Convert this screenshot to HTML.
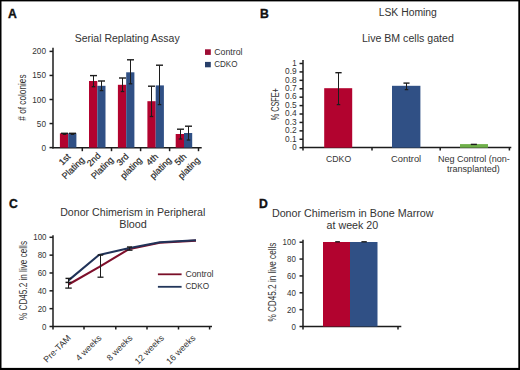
<!DOCTYPE html>
<html><head><meta charset="utf-8"><style>
html,body{margin:0;padding:0;background:#fff;}
body{width:520px;height:370px;overflow:hidden;position:relative;}
svg{position:absolute;left:0;top:0;font-family:"Liberation Sans", sans-serif;}
.s{stroke:#262626;stroke-width:0.2px;}
</style></head><body>
<svg width="520" height="370" viewBox="0 0 520 370">
<rect x="0" y="0" width="520" height="370" fill="#fff"/>
<text x="8" y="17.8" font-size="12.2" text-anchor="start" fill="#111" font-weight="bold" stroke="#111" stroke-width="0.35">A</text>
<text x="74.7" y="41.8" font-size="11" text-anchor="start" fill="#333333" font-weight="normal" textLength="105" lengthAdjust="spacingAndGlyphs" >Serial Replating Assay</text>
<line x1="53" y1="47.8" x2="53" y2="148.5" stroke="#1c1c1c" stroke-width="1.5" />
<line x1="49.5" y1="147.6" x2="53" y2="147.6" stroke="#1c1c1c" stroke-width="1.5" />
<text x="46" y="150.6" font-size="8.4" text-anchor="end" fill="#333333" font-weight="normal" textLength="4.57" lengthAdjust="spacingAndGlyphs" >0</text>
<line x1="49.5" y1="123.55" x2="53" y2="123.55" stroke="#1c1c1c" stroke-width="1.5" />
<text x="46" y="126.55" font-size="8.4" text-anchor="end" fill="#333333" font-weight="normal" textLength="9.14" lengthAdjust="spacingAndGlyphs" >50</text>
<line x1="49.5" y1="99.5" x2="53" y2="99.5" stroke="#1c1c1c" stroke-width="1.5" />
<text x="46" y="102.5" font-size="8.4" text-anchor="end" fill="#333333" font-weight="normal" textLength="13.71" lengthAdjust="spacingAndGlyphs" >100</text>
<line x1="49.5" y1="75.45" x2="53" y2="75.45" stroke="#1c1c1c" stroke-width="1.5" />
<text x="46" y="78.45" font-size="8.4" text-anchor="end" fill="#333333" font-weight="normal" textLength="13.71" lengthAdjust="spacingAndGlyphs" >150</text>
<line x1="49.5" y1="51.39999999999999" x2="53" y2="51.39999999999999" stroke="#1c1c1c" stroke-width="1.5" />
<text x="46" y="54.39999999999999" font-size="8.4" text-anchor="end" fill="#333333" font-weight="normal" textLength="13.71" lengthAdjust="spacingAndGlyphs" >200</text>
<text transform="translate(25.8,97.6) rotate(-90)" font-size="10.2" text-anchor="middle" fill="#333333" textLength="46.3" lengthAdjust="spacingAndGlyphs">&#35; of colonies</text>
<line x1="52.5" y1="147.8" x2="201.7" y2="147.8" stroke="#1c1c1c" stroke-width="1.5" />
<line x1="82.3" y1="147.8" x2="82.3" y2="151.2" stroke="#1c1c1c" stroke-width="1.5" />
<line x1="111.5" y1="147.8" x2="111.5" y2="151.2" stroke="#1c1c1c" stroke-width="1.5" />
<line x1="140.6" y1="147.8" x2="140.6" y2="151.2" stroke="#1c1c1c" stroke-width="1.5" />
<line x1="169.6" y1="147.8" x2="169.6" y2="151.2" stroke="#1c1c1c" stroke-width="1.5" />
<line x1="198.5" y1="147.8" x2="198.5" y2="151.2" stroke="#1c1c1c" stroke-width="1.5" />
<rect x="59.900000000000006" y="133.3" width="8.3" height="14.299999999999983" fill="#b2032f"/>
<rect x="68.2" y="133.3" width="8.2" height="14.299999999999983" fill="#305085"/>
<rect x="89.0" y="81" width="8.3" height="66.6" fill="#b2032f"/>
<rect x="97.3" y="85.8" width="8.2" height="61.8" fill="#305085"/>
<rect x="117.9" y="84.8" width="8.3" height="62.8" fill="#b2032f"/>
<rect x="126.2" y="72.3" width="8.2" height="75.3" fill="#305085"/>
<rect x="147.39999999999998" y="101.2" width="8.3" height="46.39999999999999" fill="#b2032f"/>
<rect x="155.7" y="85.4" width="8.2" height="62.19999999999999" fill="#305085"/>
<rect x="175.7" y="134" width="8.3" height="13.599999999999994" fill="#b2032f"/>
<rect x="184.0" y="133" width="8.2" height="14.599999999999994" fill="#305085"/>
<line x1="64.5" y1="133.3" x2="64.5" y2="134.3" stroke="#1c1c1c" stroke-width="1" />
<line x1="61.0" y1="133.3" x2="68.0" y2="133.3" stroke="#1c1c1c" stroke-width="1.4" />
<line x1="62.75" y1="134.3" x2="66.25" y2="134.3" stroke="#1c1c1c" stroke-width="1.3" />
<line x1="72.5" y1="133.3" x2="72.5" y2="134.3" stroke="#1c1c1c" stroke-width="1" />
<line x1="69.0" y1="133.3" x2="76.0" y2="133.3" stroke="#1c1c1c" stroke-width="1.4" />
<line x1="70.75" y1="134.3" x2="74.25" y2="134.3" stroke="#1c1c1c" stroke-width="1.3" />
<line x1="93.5" y1="75.6" x2="93.5" y2="86.7" stroke="#1c1c1c" stroke-width="1" />
<line x1="90.0" y1="75.6" x2="97.0" y2="75.6" stroke="#1c1c1c" stroke-width="1.4" />
<line x1="91.75" y1="86.7" x2="95.25" y2="86.7" stroke="#1c1c1c" stroke-width="1.3" />
<line x1="101.5" y1="81" x2="101.5" y2="90.6" stroke="#1c1c1c" stroke-width="1" />
<line x1="98.0" y1="81" x2="105.0" y2="81" stroke="#1c1c1c" stroke-width="1.4" />
<line x1="99.75" y1="90.6" x2="103.25" y2="90.6" stroke="#1c1c1c" stroke-width="1.3" />
<line x1="122.5" y1="78" x2="122.5" y2="91.5" stroke="#1c1c1c" stroke-width="1" />
<line x1="119.0" y1="78" x2="126.0" y2="78" stroke="#1c1c1c" stroke-width="1.4" />
<line x1="120.75" y1="91.5" x2="124.25" y2="91.5" stroke="#1c1c1c" stroke-width="1.3" />
<line x1="130.5" y1="59.8" x2="130.5" y2="83.8" stroke="#1c1c1c" stroke-width="1" />
<line x1="127.0" y1="59.8" x2="134.0" y2="59.8" stroke="#1c1c1c" stroke-width="1.4" />
<line x1="128.75" y1="83.8" x2="132.25" y2="83.8" stroke="#1c1c1c" stroke-width="1.3" />
<line x1="151.5" y1="86.2" x2="151.5" y2="116.5" stroke="#1c1c1c" stroke-width="1" />
<line x1="148.0" y1="86.2" x2="155.0" y2="86.2" stroke="#1c1c1c" stroke-width="1.4" />
<line x1="149.75" y1="116.5" x2="153.25" y2="116.5" stroke="#1c1c1c" stroke-width="1.3" />
<line x1="159.5" y1="65.2" x2="159.5" y2="104.6" stroke="#1c1c1c" stroke-width="1" />
<line x1="156.0" y1="65.2" x2="163.0" y2="65.2" stroke="#1c1c1c" stroke-width="1.4" />
<line x1="157.75" y1="104.6" x2="161.25" y2="104.6" stroke="#1c1c1c" stroke-width="1.3" />
<line x1="180.5" y1="129.2" x2="180.5" y2="139" stroke="#1c1c1c" stroke-width="1" />
<line x1="177.0" y1="129.2" x2="184.0" y2="129.2" stroke="#1c1c1c" stroke-width="1.4" />
<line x1="178.75" y1="139" x2="182.25" y2="139" stroke="#1c1c1c" stroke-width="1.3" />
<line x1="188.5" y1="126.2" x2="188.5" y2="140" stroke="#1c1c1c" stroke-width="1" />
<line x1="185.0" y1="126.2" x2="192.0" y2="126.2" stroke="#1c1c1c" stroke-width="1.4" />
<line x1="186.75" y1="140" x2="190.25" y2="140" stroke="#1c1c1c" stroke-width="1.3" />
<g transform="translate(68.9,163.7) rotate(-45)"><text class="s" x="0" y="-6" font-size="9" text-anchor="middle" dominant-baseline="central" fill="#262626">1st</text><text class="s" x="0" y="6" font-size="9" text-anchor="middle" dominant-baseline="central" fill="#262626">Plating</text></g>
<g transform="translate(98.0,163.7) rotate(-45)"><text class="s" x="0" y="-6" font-size="9" text-anchor="middle" dominant-baseline="central" fill="#262626">2nd</text><text class="s" x="0" y="6" font-size="9" text-anchor="middle" dominant-baseline="central" fill="#262626">Plating</text></g>
<g transform="translate(126.9,163.7) rotate(-45)"><text class="s" x="0" y="-6" font-size="9" text-anchor="middle" dominant-baseline="central" fill="#262626">3rd</text><text class="s" x="0" y="6" font-size="9" text-anchor="middle" dominant-baseline="central" fill="#262626">plating</text></g>
<g transform="translate(156.39999999999998,163.7) rotate(-45)"><text class="s" x="0" y="-6" font-size="9" text-anchor="middle" dominant-baseline="central" fill="#262626">4th</text><text class="s" x="0" y="6" font-size="9" text-anchor="middle" dominant-baseline="central" fill="#262626">plating</text></g>
<g transform="translate(184.7,163.7) rotate(-45)"><text class="s" x="0" y="-6" font-size="9" text-anchor="middle" dominant-baseline="central" fill="#262626">5th</text><text class="s" x="0" y="6" font-size="9" text-anchor="middle" dominant-baseline="central" fill="#262626">plating</text></g>
<rect x="205" y="49.3" width="5.8" height="5.6" fill="#9e0c34"/>
<rect x="205" y="61.9" width="5.8" height="5.4" fill="#283f6a"/>
<text x="214.2" y="54.9" font-size="8.6" text-anchor="start" fill="#333333" font-weight="normal" textLength="28.3" lengthAdjust="spacingAndGlyphs" >Control</text>
<text x="214.2" y="66.9" font-size="8.6" text-anchor="start" fill="#333333" font-weight="normal" textLength="23.3" lengthAdjust="spacingAndGlyphs" >CDKO</text>
<text x="260" y="17.7" font-size="12.2" text-anchor="start" fill="#111" font-weight="bold" stroke="#111" stroke-width="0.35">B</text>
<text x="378.7" y="16.2" font-size="10" text-anchor="start" fill="#333333" font-weight="normal" textLength="58.2" lengthAdjust="spacingAndGlyphs" >LSK Homing</text>
<text x="361.9" y="41.5" font-size="10" text-anchor="start" fill="#333333" font-weight="normal" textLength="91.9" lengthAdjust="spacingAndGlyphs" >Live BM cells gated</text>
<line x1="303" y1="59.9" x2="303" y2="150.5" stroke="#1c1c1c" stroke-width="1.5" />
<line x1="299.5" y1="147.7" x2="303" y2="147.7" stroke="#1c1c1c" stroke-width="1.5" />
<text x="296.6" y="150.0" font-size="8.6" text-anchor="end" fill="#333333" font-weight="normal" textLength="4.4" lengthAdjust="spacingAndGlyphs" >0</text>
<line x1="299.5" y1="139.28" x2="303" y2="139.28" stroke="#1c1c1c" stroke-width="1.5" />
<text x="296.6" y="141.58" font-size="8.6" text-anchor="end" fill="#333333" font-weight="normal" textLength="11.6" lengthAdjust="spacingAndGlyphs" >0.1</text>
<line x1="299.5" y1="130.85999999999999" x2="303" y2="130.85999999999999" stroke="#1c1c1c" stroke-width="1.5" />
<text x="296.6" y="133.16" font-size="8.6" text-anchor="end" fill="#333333" font-weight="normal" textLength="11.6" lengthAdjust="spacingAndGlyphs" >0.2</text>
<line x1="299.5" y1="122.43999999999998" x2="303" y2="122.43999999999998" stroke="#1c1c1c" stroke-width="1.5" />
<text x="296.6" y="124.73999999999998" font-size="8.6" text-anchor="end" fill="#333333" font-weight="normal" textLength="11.6" lengthAdjust="spacingAndGlyphs" >0.3</text>
<line x1="299.5" y1="114.01999999999998" x2="303" y2="114.01999999999998" stroke="#1c1c1c" stroke-width="1.5" />
<text x="296.6" y="116.31999999999998" font-size="8.6" text-anchor="end" fill="#333333" font-weight="normal" textLength="11.6" lengthAdjust="spacingAndGlyphs" >0.4</text>
<line x1="299.5" y1="105.6" x2="303" y2="105.6" stroke="#1c1c1c" stroke-width="1.5" />
<text x="296.6" y="107.89999999999999" font-size="8.6" text-anchor="end" fill="#333333" font-weight="normal" textLength="11.6" lengthAdjust="spacingAndGlyphs" >0.5</text>
<line x1="299.5" y1="97.17999999999998" x2="303" y2="97.17999999999998" stroke="#1c1c1c" stroke-width="1.5" />
<text x="296.6" y="99.47999999999998" font-size="8.6" text-anchor="end" fill="#333333" font-weight="normal" textLength="11.6" lengthAdjust="spacingAndGlyphs" >0.6</text>
<line x1="299.5" y1="88.75999999999999" x2="303" y2="88.75999999999999" stroke="#1c1c1c" stroke-width="1.5" />
<text x="296.6" y="91.05999999999999" font-size="8.6" text-anchor="end" fill="#333333" font-weight="normal" textLength="11.6" lengthAdjust="spacingAndGlyphs" >0.7</text>
<line x1="299.5" y1="80.33999999999999" x2="303" y2="80.33999999999999" stroke="#1c1c1c" stroke-width="1.5" />
<text x="296.6" y="82.63999999999999" font-size="8.6" text-anchor="end" fill="#333333" font-weight="normal" textLength="11.6" lengthAdjust="spacingAndGlyphs" >0.8</text>
<line x1="299.5" y1="71.91999999999999" x2="303" y2="71.91999999999999" stroke="#1c1c1c" stroke-width="1.5" />
<text x="296.6" y="74.21999999999998" font-size="8.6" text-anchor="end" fill="#333333" font-weight="normal" textLength="11.6" lengthAdjust="spacingAndGlyphs" >0.9</text>
<line x1="299.5" y1="63.499999999999986" x2="303" y2="63.499999999999986" stroke="#1c1c1c" stroke-width="1.5" />
<text x="296.6" y="65.79999999999998" font-size="8.6" text-anchor="end" fill="#333333" font-weight="normal" textLength="4.4" lengthAdjust="spacingAndGlyphs" >1</text>
<text transform="translate(279,104.3) rotate(-90)" font-size="10.4" text-anchor="middle" fill="#333333" textLength="32" lengthAdjust="spacingAndGlyphs">% CSFE+</text>
<line x1="302.5" y1="147.6" x2="511.3" y2="147.6" stroke="#1c1c1c" stroke-width="1.5" />
<line x1="372" y1="147.6" x2="372" y2="150.5" stroke="#1c1c1c" stroke-width="1.5" />
<line x1="440.2" y1="147.6" x2="440.2" y2="150.5" stroke="#1c1c1c" stroke-width="1.5" />
<line x1="509.4" y1="147.6" x2="509.4" y2="150.5" stroke="#1c1c1c" stroke-width="1.5" />
<rect x="324.2" y="88.2" width="28" height="59.499999999999986" fill="#b2032f"/>
<rect x="392" y="85.8" width="28.4" height="61.89999999999999" fill="#305085"/>
<rect x="460" y="144.1" width="28" height="3.5999999999999943" fill="#6fb04a"/>
<line x1="338.5" y1="72.7" x2="338.5" y2="104.6" stroke="#1c1c1c" stroke-width="1" />
<line x1="335.35" y1="72.7" x2="341.65" y2="72.7" stroke="#1c1c1c" stroke-width="1.4" />
<line x1="336.75" y1="104.6" x2="340.25" y2="104.6" stroke="#1c1c1c" stroke-width="1.3" />
<line x1="406.5" y1="83.1" x2="406.5" y2="89.6" stroke="#1c1c1c" stroke-width="1" />
<line x1="403.45" y1="83.1" x2="409.55" y2="83.1" stroke="#1c1c1c" stroke-width="1.4" />
<line x1="404.75" y1="89.6" x2="408.25" y2="89.6" stroke="#1c1c1c" stroke-width="1.3" />
<line x1="470.8" y1="144.4" x2="476.9" y2="144.4" stroke="#1c1c1c" stroke-width="1.4" />
<text x="338.6" y="162.1" font-size="9" text-anchor="middle" fill="#333333" font-weight="normal" textLength="25.1" lengthAdjust="spacingAndGlyphs" >CDKO</text>
<text x="406.1" y="162.1" font-size="9" text-anchor="middle" fill="#333333" font-weight="normal" textLength="30.2" lengthAdjust="spacingAndGlyphs" >Control</text>
<text x="473.9" y="162.3" font-size="9" text-anchor="middle" fill="#333333" font-weight="normal" textLength="71.9" lengthAdjust="spacingAndGlyphs" >Neg Control (non-</text>
<text x="473.4" y="172.3" font-size="9" text-anchor="middle" fill="#333333" font-weight="normal" textLength="52.8" lengthAdjust="spacingAndGlyphs" >transplanted)</text>
<text x="9" y="207.9" font-size="12.2" text-anchor="start" fill="#111" font-weight="bold" stroke="#111" stroke-width="0.35">C</text>
<text x="60.2" y="216.3" font-size="10.8" text-anchor="start" fill="#333333" font-weight="normal" textLength="145.2" lengthAdjust="spacingAndGlyphs" >Donor Chimerism in Peripheral</text>
<text x="119.2" y="228.3" font-size="10.8" text-anchor="start" fill="#333333" font-weight="normal" textLength="27.7" lengthAdjust="spacingAndGlyphs" >Blood</text>
<line x1="53" y1="235.2" x2="53" y2="329.5" stroke="#1c1c1c" stroke-width="1.5" />
<line x1="49.5" y1="326.5" x2="53" y2="326.5" stroke="#1c1c1c" stroke-width="1.5" />
<text x="46.5" y="329.5" font-size="8.3" text-anchor="end" fill="#333333" font-weight="normal" textLength="4.4" lengthAdjust="spacingAndGlyphs" >0</text>
<line x1="49.5" y1="308.66" x2="53" y2="308.66" stroke="#1c1c1c" stroke-width="1.5" />
<text x="46.5" y="311.66" font-size="8.3" text-anchor="end" fill="#333333" font-weight="normal" textLength="8.8" lengthAdjust="spacingAndGlyphs" >20</text>
<line x1="49.5" y1="290.82" x2="53" y2="290.82" stroke="#1c1c1c" stroke-width="1.5" />
<text x="46.5" y="293.82" font-size="8.3" text-anchor="end" fill="#333333" font-weight="normal" textLength="8.8" lengthAdjust="spacingAndGlyphs" >40</text>
<line x1="49.5" y1="272.98" x2="53" y2="272.98" stroke="#1c1c1c" stroke-width="1.5" />
<text x="46.5" y="275.98" font-size="8.3" text-anchor="end" fill="#333333" font-weight="normal" textLength="8.8" lengthAdjust="spacingAndGlyphs" >60</text>
<line x1="49.5" y1="255.14" x2="53" y2="255.14" stroke="#1c1c1c" stroke-width="1.5" />
<text x="46.5" y="258.14" font-size="8.3" text-anchor="end" fill="#333333" font-weight="normal" textLength="8.8" lengthAdjust="spacingAndGlyphs" >80</text>
<line x1="49.5" y1="237.3" x2="53" y2="237.3" stroke="#1c1c1c" stroke-width="1.5" />
<text x="46.5" y="240.3" font-size="8.3" text-anchor="end" fill="#333333" font-weight="normal" textLength="13.200000000000001" lengthAdjust="spacingAndGlyphs" >100</text>
<text transform="translate(27,280.5) rotate(-90)" font-size="10.2" text-anchor="middle" fill="#333333" textLength="79" lengthAdjust="spacingAndGlyphs">% CD45.2 in live cells</text>
<line x1="52.5" y1="326.6" x2="212" y2="326.6" stroke="#1c1c1c" stroke-width="1.5" />
<line x1="84" y1="326.6" x2="84" y2="329.5" stroke="#1c1c1c" stroke-width="1.5" />
<line x1="115.8" y1="326.6" x2="115.8" y2="329.5" stroke="#1c1c1c" stroke-width="1.5" />
<line x1="147" y1="326.6" x2="147" y2="329.5" stroke="#1c1c1c" stroke-width="1.5" />
<line x1="178.5" y1="326.6" x2="178.5" y2="329.5" stroke="#1c1c1c" stroke-width="1.5" />
<line x1="209.6" y1="326.6" x2="209.6" y2="329.5" stroke="#1c1c1c" stroke-width="1.5" />
<polyline points="68.5,284.5 98.9,267.2 128.5,249.3 159.8,242.8 196,240.6" fill="none" stroke="#7e0f2b" stroke-width="2.1" stroke-linejoin="round"/>
<polyline points="68.5,280.4 98.9,255 128.5,248.3 159.8,242.2 196,240.3" fill="none" stroke="#213359" stroke-width="2.1" stroke-linejoin="round"/>
<line x1="68.5" y1="278.4" x2="68.5" y2="288.1" stroke="#1c1c1c" stroke-width="1" />
<line x1="65.5" y1="278.4" x2="71.5" y2="278.4" stroke="#1c1c1c" stroke-width="1.4" />
<line x1="65.25" y1="288.1" x2="71.75" y2="288.1" stroke="#1c1c1c" stroke-width="1.3" />
<line x1="65.5" y1="282.4" x2="71.5" y2="282.4" stroke="#1c1c1c" stroke-width="1.5" />
<line x1="100.5" y1="255" x2="100.5" y2="277.2" stroke="#1c1c1c" stroke-width="1" />
<line x1="97.75" y1="255" x2="103.25" y2="255" stroke="#1c1c1c" stroke-width="1.4" />
<line x1="97.5" y1="277.2" x2="103.5" y2="277.2" stroke="#1c1c1c" stroke-width="1.3" />
<line x1="129.5" y1="247" x2="129.5" y2="250.2" stroke="#1c1c1c" stroke-width="1" />
<line x1="127.0" y1="247" x2="132.0" y2="247" stroke="#1c1c1c" stroke-width="1.4" />
<line x1="126.5" y1="250.2" x2="132.5" y2="250.2" stroke="#1c1c1c" stroke-width="1.3" />
<line x1="157.9" y1="274.3" x2="181.6" y2="274.3" stroke="#7a0f28" stroke-width="1.8" />
<line x1="157.9" y1="286.8" x2="181.6" y2="286.8" stroke="#22365a" stroke-width="1.8" />
<text x="185.4" y="277" font-size="8.6" text-anchor="start" fill="#333333" font-weight="normal" textLength="28.1" lengthAdjust="spacingAndGlyphs" >Control</text>
<text x="185.4" y="289.2" font-size="8.6" text-anchor="start" fill="#333333" font-weight="normal" textLength="23.8" lengthAdjust="spacingAndGlyphs" >CDKO</text>
<text transform="translate(71.5,338.6) rotate(-45)" font-size="8.8" text-anchor="end" fill="#333">Pre-TAM</text>
<text transform="translate(102,338.6) rotate(-45)" font-size="8.8" text-anchor="end" fill="#333">4 weeks</text>
<text transform="translate(133,338.6) rotate(-45)" font-size="8.8" text-anchor="end" fill="#333">8 weeks</text>
<text transform="translate(164.5,338.6) rotate(-45)" font-size="8.8" text-anchor="end" fill="#333">12 weeks</text>
<text transform="translate(196,338.6) rotate(-45)" font-size="8.8" text-anchor="end" fill="#333">16 weeks</text>
<text x="259" y="207.7" font-size="12.2" text-anchor="start" fill="#111" font-weight="bold" stroke="#111" stroke-width="0.35">D</text>
<text x="271.9" y="217.3" font-size="10.8" text-anchor="start" fill="#333333" font-weight="normal" textLength="161.7" lengthAdjust="spacingAndGlyphs" >Donor Chimerism in Bone Marrow</text>
<text x="326.6" y="228.7" font-size="10.8" text-anchor="start" fill="#333333" font-weight="normal" textLength="51.6" lengthAdjust="spacingAndGlyphs" >at week 20</text>
<line x1="303" y1="239.7" x2="303" y2="329.5" stroke="#1c1c1c" stroke-width="1.5" />
<line x1="299.5" y1="326.5" x2="303" y2="326.5" stroke="#1c1c1c" stroke-width="1.5" />
<text x="295.8" y="329.5" font-size="8.3" text-anchor="end" fill="#333333" font-weight="normal" textLength="4.4" lengthAdjust="spacingAndGlyphs" >0</text>
<line x1="299.5" y1="309.64" x2="303" y2="309.64" stroke="#1c1c1c" stroke-width="1.5" />
<text x="295.8" y="312.64" font-size="8.3" text-anchor="end" fill="#333333" font-weight="normal" textLength="8.8" lengthAdjust="spacingAndGlyphs" >20</text>
<line x1="299.5" y1="292.78" x2="303" y2="292.78" stroke="#1c1c1c" stroke-width="1.5" />
<text x="295.8" y="295.78" font-size="8.3" text-anchor="end" fill="#333333" font-weight="normal" textLength="8.8" lengthAdjust="spacingAndGlyphs" >40</text>
<line x1="299.5" y1="275.92" x2="303" y2="275.92" stroke="#1c1c1c" stroke-width="1.5" />
<text x="295.8" y="278.92" font-size="8.3" text-anchor="end" fill="#333333" font-weight="normal" textLength="8.8" lengthAdjust="spacingAndGlyphs" >60</text>
<line x1="299.5" y1="259.06" x2="303" y2="259.06" stroke="#1c1c1c" stroke-width="1.5" />
<text x="295.8" y="262.06" font-size="8.3" text-anchor="end" fill="#333333" font-weight="normal" textLength="8.8" lengthAdjust="spacingAndGlyphs" >80</text>
<line x1="299.5" y1="242.2" x2="303" y2="242.2" stroke="#1c1c1c" stroke-width="1.5" />
<text x="295.8" y="245.2" font-size="8.3" text-anchor="end" fill="#333333" font-weight="normal" textLength="13.200000000000001" lengthAdjust="spacingAndGlyphs" >100</text>
<text transform="translate(276.2,282.1) rotate(-90)" font-size="10.2" text-anchor="middle" fill="#333333" textLength="79" lengthAdjust="spacingAndGlyphs">% CD45.2 in live cells</text>
<line x1="302.5" y1="326.6" x2="401.3" y2="326.6" stroke="#1c1c1c" stroke-width="1.5" />
<line x1="398" y1="326.6" x2="398" y2="329.6" stroke="#1c1c1c" stroke-width="1.5" />
<rect x="323" y="242" width="27" height="84.5" fill="#b2032f"/>
<rect x="350" y="242" width="27.5" height="84.5" fill="#305085"/>
<line x1="335.2" y1="241.8" x2="339.9" y2="241.8" stroke="#1c1c1c" stroke-width="1.4" />
<line x1="361.4" y1="241.8" x2="366.8" y2="241.8" stroke="#1c1c1c" stroke-width="1.4" />
<rect x="0" y="0" width="520" height="1.4" fill="#000"/><rect x="0" y="0" width="1.5" height="370" fill="#000"/><rect x="518.3" y="0" width="1.7" height="370" fill="#000"/><rect x="0" y="367.9" width="520" height="2.1" fill="#000"/>
</svg>
</body></html>
